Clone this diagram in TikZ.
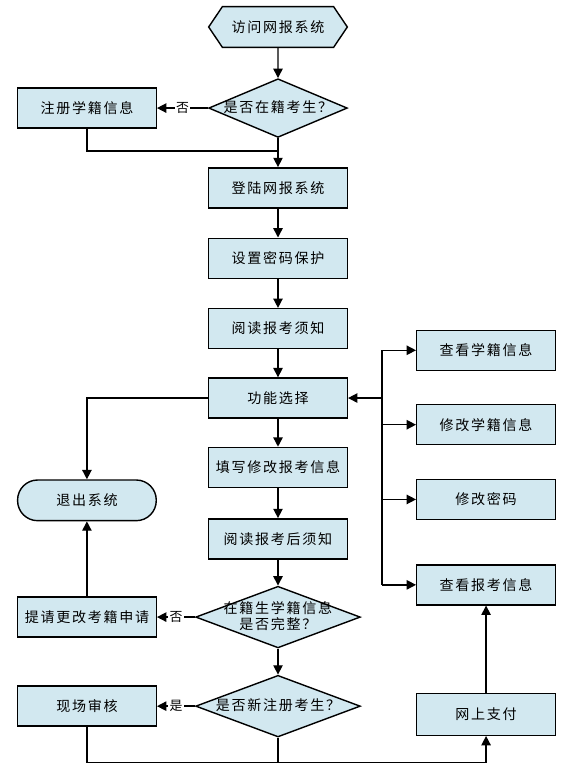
\documentclass[tikz,border=0pt]{standalone}
\usepackage{fontspec}
\setmainfont{Noto Sans CJK SC}[LetterSpace=12]
\usetikzlibrary{arrows.meta}
\usetikzlibrary{positioning}
\usetikzlibrary{shapes.geometric}
\usetikzlibrary{shapes.symbols}
\usetikzlibrary{calc}
\definecolor{boxblue}{RGB}{210,232,240}
% text of a diamond takes no room, so the diamond keeps its size
\newcommand{\dectext}[1]{\makebox[0pt]{\smash{\raisebox{-4pt}{\begin{tabular}{c}#1\end{tabular}}}}}
\tikzset{
    block/.style={
           rectangle,
           draw=black, very thick,
           fill=boxblue,
           minimum width=4.16cm,
           minimum height=1.2cm,
           inner sep=2pt,
           text centered,
           },
    endblock/.style={
           rectangle,
           rounded corners=0.6cm,
           draw=black, very thick,
           fill=boxblue,
           minimum width=4.16cm,
           minimum height=1.22cm,
           inner sep=2pt,
           text centered,
           },
    hexa/.style={
           signal, signal to=east and west,
           signal pointer angle=112,
           draw=black, very thick,
           fill=boxblue,
           minimum width=4.16cm,
           minimum height=1.22cm,
           inner sep=2pt,
           text centered,
           },
    decision/.style={
           diamond, aspect=2.3,
           draw=black, very thick,
           fill=boxblue,
           minimum width=4.16cm,
           minimum height=1.76cm,
           inner sep=0pt,
           text centered,
           },
    answer/.style={
           fill=white,
           inner sep=1pt,
           font=\fontsize{11}{13}\selectfont,
           },
}

\begin{document}
\begin{tikzpicture}[font=\fontsize{12}{15}\selectfont, >={Triangle[length=2.8mm,width=2.8mm]}]
	\useasboundingbox (-8.34,0.81) rectangle (8.79,-22.38);
	\tikzset{widedec/.style={minimum width=4.94cm, minimum height=1.85cm},};
	\node[hexa] (visit) at (0,0) {访问网报系统};
	\node[decision, below=0.9cm of visit] (isreg) {\dectext{是否在籍考生？}};
	\node[block, below=0.87cm of isreg] (login) {登陆网报系统};
	\node[block, below=0.87cm of login] (pwd) {设置密码保护};
	\node[block, below=0.87cm of pwd] (notice) {阅读报考须知};
	\node[block, below=0.84cm of notice] (select) {功能选择};
	\node[block, below=0.84cm of select] (fill) {填写修改报考信息};
	\node[block, below=0.9cm of fill] (after) {阅读报考后须知};
	\node[decision, widedec, below=0.78cm of after] (complete) {\dectext{在籍生学籍信息\\[-1pt] 是否完整？}};
	\node[decision, widedec, below=0.78cm of complete] (isnew) {\dectext{是否新注册考生？}};
	
	%left column
	\node[block, left=1.53cm of isreg] (register) {注册学籍信息};
	\node[block, left=1.14cm of complete] (apply) {提请更改考籍申请};
	\node[endblock, above=2.25cm of apply] (exit) {退出系统};
	\node[block, left=1.14cm of isnew] (check) {现场审核};
	
	%right column
	\node[block, right=2.04cm of notice, yshift=-0.65cm] (viewinfo) {查看学籍信息};
	\node[block, below=0.99cm of viewinfo] (modinfo) {修改学籍信息};
	\node[block, below=1.0cm of modinfo] (modpwd) {修改密码};
	\node[block, below=1.32cm of modpwd] (viewapp) {查看报考信息};
	\node[block, below=2.61cm of viewapp, minimum height=1.26cm] (pay) {网上支付};
	
	\coordinate[right=1.02cm of select] (bus);
	\coordinate (join) at ($(isreg.south)!0.45!(login.north)$);
	\coordinate[below=0.75cm of isnew] (bottom);
	
	%EDGES
	\path[->,very thick]	(visit) edge (isreg)
					(isreg) edge (login)
					(login) edge (pwd)
					(pwd) edge (notice)
					(notice) edge (select)
					(select) edge (fill)
					(fill) edge (after)
					(after) edge (complete)
					(complete) edge (isnew);
	\path[->,very thick]	(isreg.west) edge node[answer] {否} (register.east)
					(complete.west) edge node[answer] {否} (apply.east)
					(isnew.west) edge node[answer] {是} (check.east);
	\draw[very thick]	(register.south) |- (join);
	
	\draw[very thick]	(bus |- viewinfo.west) -- (bus |- viewapp.west);
	\path[->,very thick]	(bus) edge (select.east)
					(bus |- viewinfo.west) edge (viewinfo.west)
					(bus |- modinfo.west) edge (modinfo.west)
					(bus |- modpwd.west) edge (modpwd.west)
					(bus |- viewapp.west) edge (viewapp.west);
	
	\draw[->,very thick]	(select.west) -| (exit.north);
	\path[->,very thick]	(apply) edge (exit);
	
	\draw[->,very thick]	(check.south) |- (bottom) -| (pay.south);
	\draw[very thick]	(isnew.south) -- (bottom);
	\path[->,very thick]	(pay) edge (viewapp);
	
\end{tikzpicture}
\end{document}
